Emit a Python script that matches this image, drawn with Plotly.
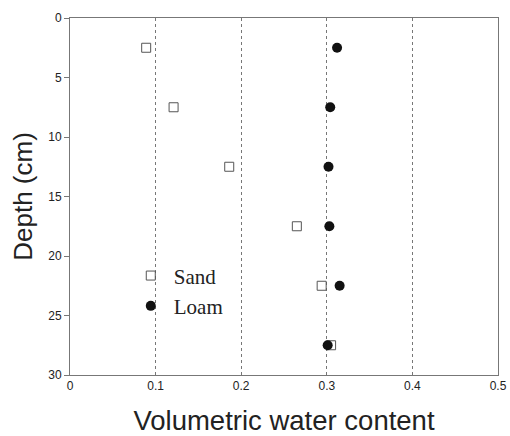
import plotly.graph_objects as go

depth = [2.5, 7.5, 12.5, 17.5, 22.5, 27.5]
sand = [0.089, 0.121, 0.186, 0.265, 0.294, 0.305]
loam = [0.312, 0.304, 0.302, 0.303, 0.315, 0.301]
x_ticks = [0, 0.1, 0.2, 0.3, 0.4, 0.5]
x_labels = ["0", "0.1", "0.2", "0.3", "0.4", "0.5"]
y_ticks = [0, 5, 10, 15, 20, 25, 30]

fig = go.Figure()
fig.add_trace(go.Scatter(
    x=sand, y=depth, mode="markers", name="Sand",
    marker=dict(symbol="square-open", size=9, color="#555555", line=dict(width=1, color="#555555")),
))
fig.add_trace(go.Scatter(
    x=loam, y=depth, mode="markers", name="Loam",
    marker=dict(symbol="circle", size=10, color="#111111"),
))

fig.update_layout(
    width=510, height=436,
    margin=dict(l=70, r=12, t=18, b=61),
    paper_bgcolor="white", plot_bgcolor="white",
    font=dict(family="Liberation Sans, Arial, sans-serif", color="#222222"),
    showlegend=True,
    legend=dict(
        x=0.135, y=0.335, xanchor="left", yanchor="top",
        bgcolor="rgba(0,0,0,0)", itemwidth=36,
        font=dict(family="Liberation Serif, Times New Roman, serif", size=21, color="#222222"),
    ),
    xaxis=dict(
        range=[0, 0.5], tickvals=x_ticks, ticktext=x_labels, automargin=False,
        showgrid=True, gridcolor="#777777", griddash="dot", gridwidth=1,
        showline=True, linecolor="#777777", linewidth=1, mirror=True,
        ticks="", zeroline=False,
        tickfont=dict(size=12),
        title=dict(text="Volumetric water content", font=dict(size=27.5), standoff=22),
    ),
    yaxis=dict(
        range=[30, 0], tickvals=y_ticks, automargin=False,
        showgrid=False, zeroline=False,
        showline=True, linecolor="#777777", linewidth=1, mirror=True,
        ticks="outside", ticklen=5, tickcolor="#777777",
        tickfont=dict(size=12),
        title=dict(text="Depth (cm)", font=dict(size=26), standoff=8),
    ),
    yaxis2=dict(
        range=[30, 0], tickvals=y_ticks, overlaying="y", side="right", automargin=False,
        showgrid=False, zeroline=False, showline=False,
        ticks="inside", ticklen=6, tickcolor="#777777",
        showticklabels=False,
    ),
)

fig.write_html("out.html")
